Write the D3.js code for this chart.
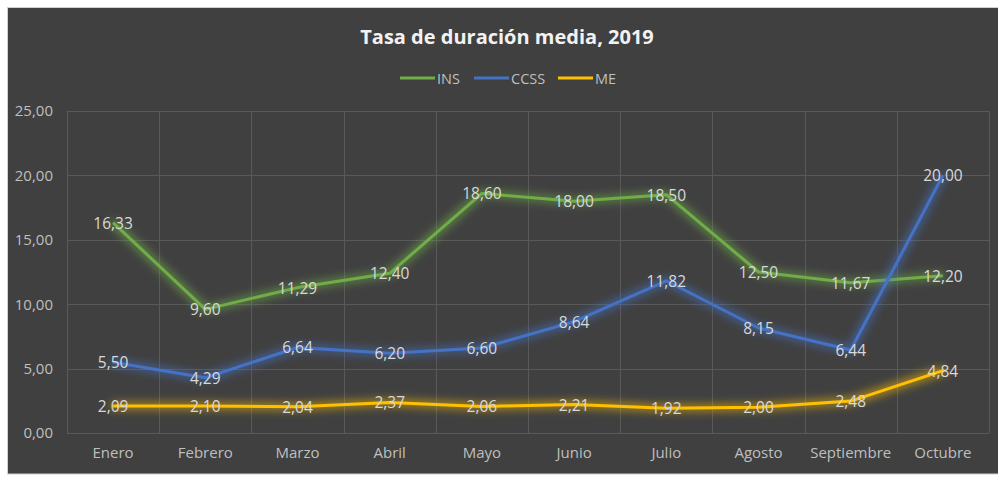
<!DOCTYPE html>
<html>
<head>
<meta charset="utf-8">
<script src="https://cdn.jsdelivr.net/npm/d3@7"></script>
<style>
  body { margin: 0; background: #ffffff; }
  svg { display: block; font-family: "Open Sans", "Noto Sans", sans-serif; }
</style>
</head>
<body>
<div id="chart-area"></div>
<script>
let width = 998,
    height = 477;

// data
let months = ["Enero", "Febrero", "Marzo", "Abril", "Mayo", "Junio", "Julio", "Agosto", "Septiembre", "Octubre"];
let ins  = [16.33, 9.60, 11.29, 12.40, 18.60, 18.00, 18.50, 12.50, 11.67, 12.20];
let ccss = [5.50, 4.29, 6.64, 6.20, 6.60, 8.64, 11.82, 8.15, 6.44, 20.00];
let me   = [2.09, 2.10, 2.04, 2.37, 2.06, 2.21, 1.92, 2.00, 2.48, 4.84];
let yTicks = [0, 5, 10, 15, 20, 25];

let series = [
  {name: "INS", values: ins, color: "#70ad47"},
  {name: "CCSS", values: ccss, color: "#4472c4"},
  {name: "ME", values: me, color: "#ffc000"}
];

let svg = d3.select("#chart-area").append("svg")
    .attr("width", width)
    .attr("height", height);

// dark chart background
svg.append("rect")
  .attr("x", 7.5).attr("y", 7.5)
  .attr("width", width - 7).attr("height", 466.5)
  .attr("fill", "#404040")
  .attr("stroke", "#d0d0d0");

let x = d3.scaleBand().domain(months).range([67, 989]);
let y = d3.scaleLinear().domain([0, 25]).range([433, 111]);

// glow filters
let defs = svg.append("defs");
series.forEach(function(s) {
  let f = defs.append("filter")
    .attr("id", "glow-" + s.name)
    .attr("x", "-20%").attr("y", "-50%")
    .attr("width", "140%").attr("height", "200%");
  f.append("feMorphology").attr("in", "SourceGraphic").attr("operator", "dilate").attr("radius", 1.5).attr("result", "fat");
  f.append("feGaussianBlur").attr("in", "fat").attr("stdDeviation", 4).attr("result", "blur");
  f.append("feComponentTransfer").attr("in", "blur").attr("result", "soft")
    .append("feFuncA").attr("type", "linear").attr("slope", 0.6);
  let m = f.append("feMerge");
  m.append("feMergeNode").attr("in", "soft");
  m.append("feMergeNode").attr("in", "SourceGraphic");
});

// gridlines
svg.append("g")
  .selectAll("line")
  .data(yTicks)
  .enter().append("line")
  .attr("x1", 67).attr("x2", 989)
  .attr("y1", d => Math.round(y(d)) + 0.5)
  .attr("y2", d => Math.round(y(d)) + 0.5)
  .attr("stroke", "#595959")
  .attr("stroke-width", 1);

let vLines = months.map(d => x(d)).concat([989]);
svg.append("g")
  .selectAll("line")
  .data(vLines)
  .enter().append("line")
  .attr("x1", d => Math.round(d) + 0.5).attr("x2", d => Math.round(d) + 0.5)
  .attr("y1", y(25)).attr("y2", y(0))
  .attr("stroke", "#595959")
  .attr("stroke-width", 1);

// y axis labels
let yAxis = d3.axisLeft(y)
  .tickValues(yTicks)
  .tickSize(0)
  .tickPadding(14)
  .tickFormat(d => d3.format(".2f")(d).replace(".", ","));
let yg = svg.append("g").attr("transform", "translate(67,0)").call(yAxis);
yg.select(".domain").remove();
yg.selectAll("text")
  .attr("fill", "#bfbfbf")
  .attr("font-size", 15)
  .attr("font-family", "Open Sans, sans-serif");

// x axis labels
let xAxis = d3.axisBottom(x).tickSize(0).tickPadding(14);
let xg = svg.append("g").attr("transform", "translate(0,433)").call(xAxis);
xg.select(".domain").remove();
xg.selectAll("text")
  .attr("fill", "#bfbfbf")
  .attr("font-size", 15)
  .attr("font-family", "Open Sans, sans-serif");

// lines
let line = d3.line()
  .x((d, i) => x(months[i]) + x.bandwidth() / 2)
  .y(d => y(d));

series.forEach(function(s) {
  svg.append("path")
    .datum(s.values)
    .attr("d", line)
    .attr("fill", "none")
    .attr("stroke", s.color)
    .attr("stroke-width", 3)
    .attr("stroke-linejoin", "round")
    .attr("filter", "url(#glow-" + s.name + ")");
});

// data labels
series.forEach(function(s) {
  svg.append("g")
    .selectAll("text")
    .data(s.values)
    .enter().append("text")
    .attr("x", (d, i) => x(months[i]) + x.bandwidth() / 2)
    .attr("y", d => y(d) + 6)
    .attr("text-anchor", "middle")
    .attr("fill", "#d9d9d9")
    .attr("font-size", 15.5)
    .text(d => d3.format(".2f")(d).replace(".", ","));
});

// title
svg.append("text")
  .attr("x", 507).attr("y", 44)
  .attr("text-anchor", "middle")
  .attr("fill", "#f2f2f2")
  .attr("font-size", 20)
  .attr("font-weight", "bold")
  .text("Tasa de duración media, 2019");

// legend
let legendX = [400, 474, 558];
series.forEach(function(s, i) {
  let g = svg.append("g").attr("transform", "translate(" + legendX[i] + ",78)");
  g.append("line")
    .attr("x1", 0).attr("x2", 35)
    .attr("y1", 0).attr("y2", 0)
    .attr("stroke", s.color)
    .attr("stroke-width", 3);
  g.append("text")
    .attr("x", 37).attr("y", 5.5)
    .attr("fill", "#bfbfbf")
    .attr("font-size", 14.5)
    .text(s.name);
});
</script>
</body>
</html>
